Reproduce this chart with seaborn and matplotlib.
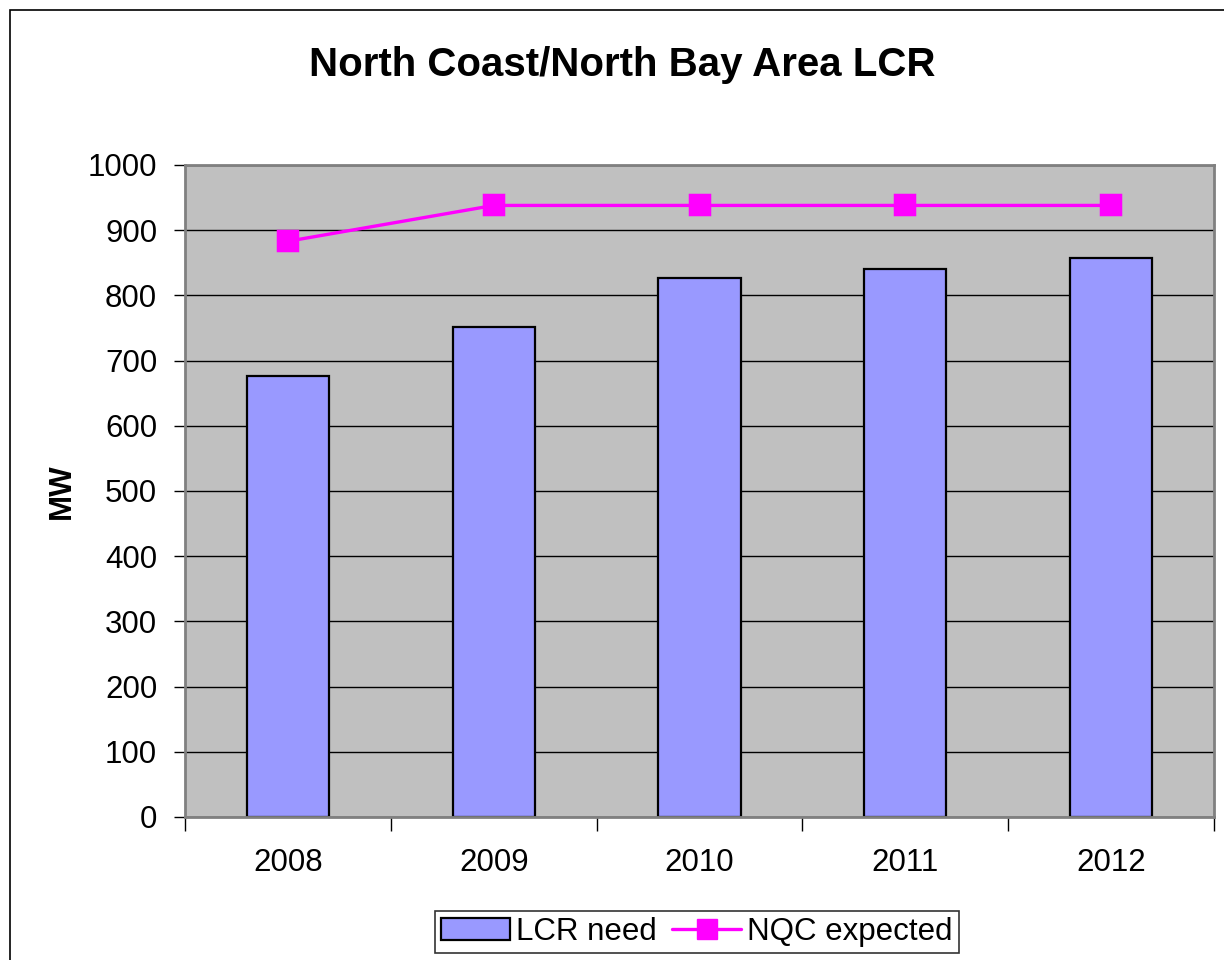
import numpy as np
import pandas as pd
import matplotlib
matplotlib.use("Agg")
import matplotlib.pyplot as plt
import seaborn as sns
from matplotlib.patches import Rectangle
from matplotlib.lines import Line2D
from matplotlib.ticker import FixedLocator

# data
years = ["2008", "2009", "2010", "2011", "2012"]
lcr_need = [676, 751, 826, 841, 857]
nqc_expected = [883, 938, 938, 938, 938]

df = pd.DataFrame({"Year": years, "LCR need": lcr_need, "NQC expected": nqc_expected})

sns.set_style("white")
plt.rcParams["font.family"] = ["Liberation Sans", "DejaVu Sans"]
plt.rcParams["text.color"] = "black"
plt.rcParams["axes.labelcolor"] = "black"
plt.rcParams["xtick.color"] = "black"
plt.rcParams["ytick.color"] = "black"

fig = plt.figure(figsize=(12.24, 9.6), dpi=100)
ax = fig.add_axes([185 / 1224, 143 / 960, 1029 / 1224, 652 / 960])
ax.set_facecolor("#C0C0C0")
ax.set_axisbelow(True)

# bars
sns.barplot(data=df, x="Year", y="LCR need", color="#9999FF", edgecolor="black",
            linewidth=1.6, width=0.4, saturation=1, ax=ax)

# line with square markers
sns.pointplot(data=df, x="Year", y="NQC expected", color="#FF00FF", markers="s",
              markersize=14, linewidth=2.4, ax=ax, errorbar=None)

ax.set_xlim(-0.5, 4.5)
ax.set_ylim(0, 1000)
ax.set_yticks(np.arange(0, 1001, 100))
ax.yaxis.grid(True, color="black", linewidth=1)
ax.xaxis.grid(False)

ax.tick_params(axis="y", which="major", direction="out", length=8, width=1,
               labelsize=22.5, pad=12, left=True, color="black", labelcolor="black")
ax.tick_params(axis="x", which="major", length=0, labelsize=22.5, pad=22,
               labelcolor="black")
ax.xaxis.set_minor_locator(FixedLocator(np.arange(-0.5, 5, 1)))
ax.tick_params(axis="x", which="minor", direction="out", length=10, width=1,
               bottom=True, color="black")

for s in ["left", "top", "right", "bottom"]:
    ax.spines[s].set_color("#808080")
    ax.spines[s].set_linewidth(2)
    ax.spines[s].set_visible(True)

ax.set_xlabel("")
ax.set_ylabel("MW", fontsize=22.5, fontweight="bold", labelpad=8, color="black")
fig.text(622 / 1224, 1 - 65 / 960, "North Coast/North Bay Area LCR", ha="center",
         va="center", fontsize=29, fontweight="bold", color="black")

# legend
handles = [
    Rectangle((0, 0), 1, 1, facecolor="#9999FF", edgecolor="black", linewidth=1.6),
    Line2D([0], [0], color="#FF00FF", linewidth=2.4, marker="s", markersize=14),
]
leg = fig.legend(handles, ["LCR need", "NQC expected"], loc="lower center",
                 bbox_to_anchor=(697 / 1224, 7 / 960), ncol=2, fontsize=22.5,
                 frameon=True, fancybox=False, edgecolor="black",
                 handlelength=2.2, handletextpad=0.2, columnspacing=0.5,
                 borderpad=0.2, borderaxespad=0)
leg.get_frame().set_linewidth(1.2)
for t in leg.get_texts():
    t.set_color("black")

# outer chart frame
fig.patches.append(Rectangle((10 / 1224, -0.05), 1.1, 0.05 + 950 / 960,
                             transform=fig.transFigure, fill=False,
                             edgecolor="black", linewidth=1.2))

fig.savefig("out.png", dpi=100)
